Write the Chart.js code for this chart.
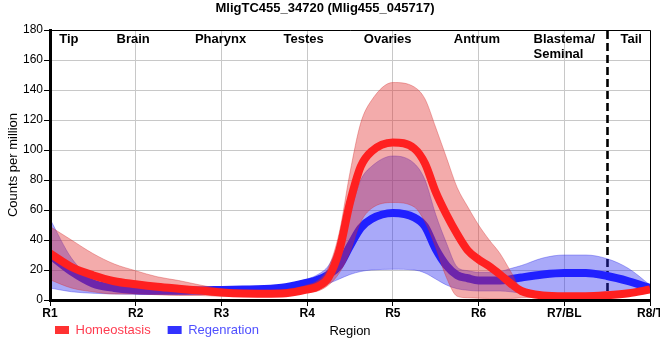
<!DOCTYPE html>
<html>
<head>
<meta charset="utf-8">
<script src="https://cdn.jsdelivr.net/npm/chart.js@4.4.1/dist/chart.umd.min.js"></script>
<style>
html,body{margin:0;padding:0;background:#fff;}
#wrap{width:660px;height:360px;}
</style>
</head>
<body>
<div id="wrap"><canvas id="c" width="660" height="360"></canvas></div>
<script>
// ---- data ----
const regionTicks = ['R1', 'R2', 'R3', 'R4', 'R5', 'R6', 'R7/BL', 'R8/T'];
const tissueNames = ['Tip', 'Brain', 'Pharynx', 'Testes', 'Ovaries', 'Antrum', ['Blastema/', 'Seminal'], 'Tail'];
const seriesNames = ['Homeostasis', 'Regenration'];

// sample positions along the body (0 = R1 ... 7 = R8/T)
const samplePos = [0, 0.25, 0.5, 0.75, 1, 1.25, 1.5, 1.75, 2, 2.25, 2.5, 2.75, 3, 3.125, 3.25, 3.375, 3.5, 3.625, 3.75, 4,
  4.25, 4.375, 4.5, 4.625, 4.75, 4.875, 5, 5.125, 5.25, 5.375, 5.5, 5.75, 6, 6.25, 6.5, 6.75, 7];

const homeostasisMean = [31, 22, 16.5, 12.5, 10.5, 8.8, 7.5, 6.3, 5, 4.3, 4.2, 4.5, 7, 9, 15, 33, 65, 89, 99, 105,
  101, 91, 72, 57, 44, 33, 27, 22.5, 17, 11, 6, 3, 2.5, 2.5, 3.2, 4.5, 7];
const homeostasisHigh = [49, 40, 31, 24, 19.5, 15.5, 13, 10, 7.5, 6.5, 6.5, 7, 10, 13, 22, 45, 85, 118, 133, 145,
  142, 134, 115, 95, 75, 62, 50, 40, 31, 19, 7, 3.5, 3.5, 3.5, 4, 5.5, 8.5];
const homeostasisLow = [13.5, 8, 5.5, 4, 4, 3.5, 3, 3, 2.5, 2.5, 2.5, 3, 5, 6, 10, 18, 32, 52, 61, 65,
  62, 52, 35, 15, 2.5, 1.5, 1.2, 1, 1, 1, 1.5, 2, 1.8, 1.8, 2.5, 3.5, 5.5];

const regenMean = [30, 19, 11, 8, 6.5, 6.2, 6.2, 6.4, 6.7, 7, 7.3, 8.5, 11.5, 13.5, 17, 23, 36, 48, 54, 58,
  55, 49, 34, 23, 16.5, 14.5, 13, 13, 13, 13.8, 15, 17, 18, 18, 16, 12.5, 8];
const regenHigh = [54, 28, 14, 9.5, 8.5, 8.3, 8.3, 8.5, 8.8, 9, 9.5, 10.5, 14, 17, 23, 38, 58, 80, 89, 96,
  91, 80, 57, 38, 22, 19.5, 18.5, 18.5, 19, 21, 23, 28, 30, 30, 27.5, 21, 10];
const regenLow = [8, 5.5, 4.5, 4, 3.8, 3.7, 3.6, 3.6, 4, 4, 4.2, 5, 7.5, 9, 11, 14, 17, 19, 20, 20.5,
  20, 18, 14, 10, 7.5, 6.5, 6, 6, 6, 5.5, 4.5, 3.5, 3, 3, 3, 3.5, 6];

// ---- styling ----
const RED = 'rgb(255,32,32)';
const BLUE = 'rgb(32,32,255)';
const RED_FILL = 'rgba(225,45,45,0.40)';
const BLUE_FILL = 'rgba(40,40,240,0.40)';
const FONT = "'Liberation Sans', Arial, Helvetica, sans-serif";
Chart.defaults.font.family = FONT;
Chart.defaults.color = '#000';

const pts = arr => samplePos.map((x, i) => ({x: x, y: arr[i]}));

const tissueAnchor = [0.22, 0.97, 1.99, 2.96, 3.94, 4.98, 6.0, 6.78];
const dividerAt = 6.5;

const overlay = {
  id: 'overlay',
  beforeDatasetsDraw(chart) {
    const {ctx, chartArea: a, scales: {x}} = chart;
    const px = Math.round(x.getPixelForValue(dividerAt)) + 0.5;
    ctx.save();
    ctx.strokeStyle = '#000';
    ctx.lineWidth = 2.6;
    ctx.setLineDash([8, 4]);
    ctx.beginPath();
    ctx.moveTo(px, a.top + 1);
    ctx.lineTo(px, a.bottom);
    ctx.stroke();
    ctx.restore();
  },
  afterDatasetsDraw(chart) {
    const {ctx, chartArea: a, scales: {x}} = chart;
    ctx.save();
    // thin frame on top and right
    ctx.strokeStyle = '#000';
    ctx.lineWidth = 1;
    ctx.beginPath();
    ctx.moveTo(a.left, a.top + 0.5);
    ctx.lineTo(a.right + 0.5, a.top + 0.5);
    ctx.lineTo(a.right + 0.5, a.bottom);
    ctx.stroke();
    // tissue names
    ctx.fillStyle = '#000';
    ctx.font = 'bold 13px ' + FONT;
    ctx.textBaseline = 'alphabetic';
    tissueNames.forEach((name, i) => {
      const cx = x.getPixelForValue(tissueAnchor[i]);
      const lines = Array.isArray(name) ? name : [name];
      const w = Math.max(...lines.map(l => ctx.measureText(l).width));
      ctx.textAlign = 'left';
      lines.forEach((l, k) => ctx.fillText(l, cx - w / 2, a.top + 13 + k * 15));
    });
    ctx.restore();
  }
};

const legendPlace = {
  id: 'legendPlace',
  afterLayout(chart) {
    const L = chart.legend;
    if (!L) return;
    const dx = 38 - L.left, dy = 306.5 - L.top;
    L.left += dx; L.right += dx; L.top += dy; L.bottom += dy;
  }
};

new Chart(document.getElementById('c'), {
  type: 'line',
  data: {
    datasets: [
      {label: seriesNames[0], data: pts(homeostasisMean), borderColor: RED, backgroundColor: RED,
        borderWidth: 8, fill: false, order: 1},
      {label: seriesNames[0] + ' high', data: pts(homeostasisHigh), borderColor: 'rgba(210,40,40,0.35)',
        backgroundColor: RED_FILL, borderWidth: 1, fill: '+1', order: 2},
      {label: seriesNames[0] + ' low', data: pts(homeostasisLow), borderColor: 'rgba(210,40,40,0.35)',
        borderWidth: 1, fill: false, order: 3},
      {label: seriesNames[1], data: pts(regenMean), borderColor: BLUE, backgroundColor: BLUE,
        borderWidth: 8, fill: false, order: 4},
      {label: seriesNames[1] + ' high', data: pts(regenHigh), borderColor: 'rgba(40,40,230,0.35)',
        backgroundColor: BLUE_FILL, borderWidth: 1, fill: '+1', order: 5},
      {label: seriesNames[1] + ' low', data: pts(regenLow), borderColor: 'rgba(40,40,230,0.35)',
        borderWidth: 1, fill: false, order: 6}
    ]
  },
  options: {
    responsive: false,
    animation: false,
    devicePixelRatio: 1,
    layout: {padding: {left: 0, right: 10, top: 0, bottom: 0}},
    elements: {
      point: {radius: 0, hoverRadius: 0},
      line: {cubicInterpolationMode: 'monotone', borderCapStyle: 'butt', borderJoinStyle: 'round'}
    },
    scales: {
      x: {
        type: 'linear', min: 0, max: 7,
        afterFit: s => { s.height = 20; s.paddingLeft = 0; s.paddingRight = 0; },
        grid: {color: '#c8c8c8', tickColor: '#000', tickLength: 6, lineWidth: 1},
        border: {display: true, color: '#000', width: 3, z: 1},
        ticks: {
          stepSize: 1, autoSkip: false, maxRotation: 0, minRotation: 0, padding: 0,
          font: {size: 12, weight: 'bold'}, color: '#000',
          callback: v => Number.isInteger(v) ? regionTicks[v] : ''
        },
        title: {display: true, text: 'Region', font: {size: 13}, color: '#000',
          padding: {top: 0, bottom: -18.8}}
      },
      y: {
        min: 0, max: 180,
        afterFit: s => { s.width = 50; },
        grid: {color: '#c8c8c8', tickColor: '#000', tickLength: 6, lineWidth: 1},
        border: {display: true, color: '#000', width: 3, z: 1},
        ticks: {stepSize: 20, font: {size: 12}, color: '#000', padding: 1},
        title: {display: true, text: 'Counts per million', font: {size: 13}, color: '#000',
          padding: {top: 6, bottom: 0}}
      }
    },
    plugins: {
      title: {display: true, text: 'MligTC455_34720 (Mlig455_045717)', color: '#000',
        font: {size: 13, weight: 'bold'}, padding: {top: 1, bottom: 13.4}},
      legend: {
        display: true, position: 'bottom', align: 'start',
        labels: {
          boxWidth: 14, boxHeight: 8, padding: 17, font: {size: 13},
          generateLabels: () => [
            {text: seriesNames[0], fillStyle: 'rgb(255,50,50)', strokeStyle: 'rgb(255,50,50)', lineWidth: 0,
              fontColor: 'rgb(255,60,80)', datasetIndex: 0, hidden: false},
            {text: seriesNames[1], fillStyle: 'rgb(50,50,255)', strokeStyle: 'rgb(50,50,255)', lineWidth: 0,
              fontColor: 'rgb(80,80,255)', datasetIndex: 3, hidden: false}
          ]
        }
      },
      tooltip: {enabled: false}
    }
  },
  plugins: [overlay, legendPlace]
});
</script>
</body>
</html>
